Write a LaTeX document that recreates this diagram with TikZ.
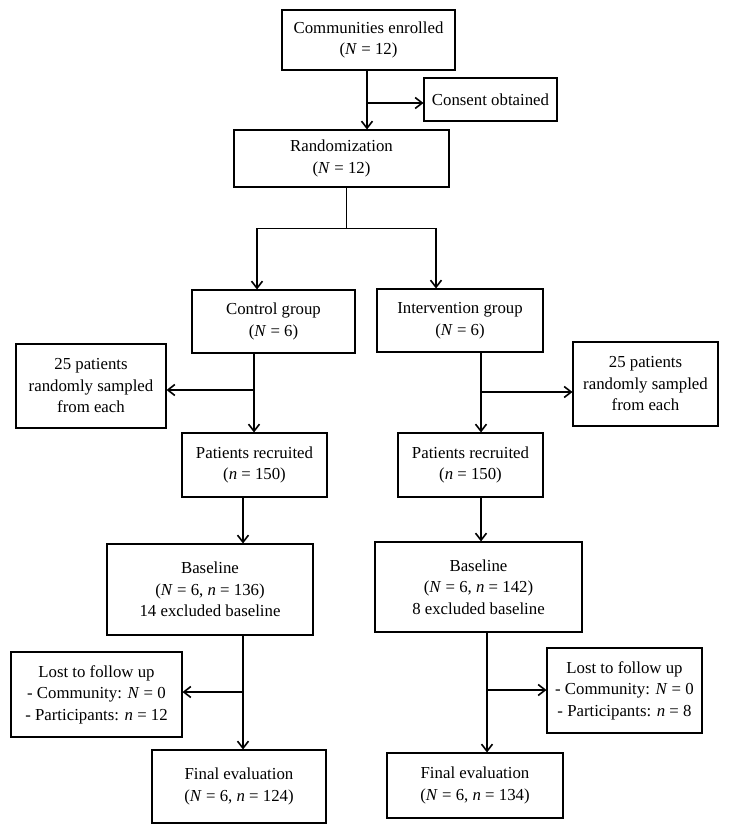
\documentclass[tikz,border=0pt]{standalone}
\usepackage{fontspec}
\setmainfont{Liberation Serif}
\usetikzlibrary{arrows.meta}

\begin{document}
\begin{tikzpicture}[x=1pt, y=-1pt,
                    line width=1.1pt,
                    font=\fontsize{16.8}{21.5}\selectfont]
    \tikzstyle{box}=[draw, align=center, inner sep=0pt]
    \tikzstyle{flow}=[line width=1.6pt, -{Straight Barb[length=7pt,width=11pt]}]
    \tikzstyle{split}=[line width=0.8pt]
    \useasboundingbox (0,0) rectangle (729,834);

    \node[box, minimum width=173pt, minimum height=60pt] (comm) at (368.5,40) {Communities enrolled\\(\textit{N} = 12)};
    \node[box, minimum width=133pt, minimum height=43pt] (consent) at (490.5,99.5) {Consent obtained};
    \node[box, minimum width=215pt, minimum height=57pt] (rand) at (341.5,158.5) {Randomization\\(\textit{N} = 12)};

    \node[box, minimum width=163pt, minimum height=63pt] (ctrl) at (273.5,321.5) {Control group\\(\textit{N} = 6)};
    \node[box, minimum width=166pt, minimum height=63pt] (intv) at (460,320.5) {Intervention group\\(\textit{N} = 6)};
    \node[box, minimum width=150pt, minimum height=84pt] (sampL) at (91,386) {25 patients\\randomly sampled\\from each};
    \node[box, minimum width=145pt, minimum height=84pt] (sampR) at (645.5,384) {25 patients\\randomly sampled\\from each};

    \node[box, minimum width=145pt, minimum height=64pt] (recL) at (254.5,465) {Patients recruited\\(\textit{n} = 150)};
    \node[box, minimum width=145pt, minimum height=64pt] (recR) at (470.5,465) {Patients recruited\\(\textit{n} = 150)};
    \node[box, minimum width=206pt, minimum height=91pt] (baseL) at (210,589.5) {Baseline\\(\textit{N} = 6, \textit{n} = 136)\\14 excluded baseline};
    \node[box, minimum width=207pt, minimum height=90pt] (baseR) at (478.5,587) {Baseline\\(\textit{N} = 6, \textit{n} = 142)\\8 excluded baseline};

    \node[box, minimum width=171pt, minimum height=85pt] (lostL) at (96.5,694.5) {Lost to follow up\\- Community: \textit{N} = 0\\- Participants: \textit{n} = 12};
    \node[box, minimum width=155pt, minimum height=85pt] (lostR) at (624.5,690.5) {Lost to follow up\\- Community: \textit{N} = 0\\- Participants: \textit{n} = 8};
    \node[box, minimum width=174pt, minimum height=73pt] (finL) at (239,786.5) {Final evaluation\\(\textit{N} = 6, \textit{n} = 124)};
    \node[box, minimum width=176pt, minimum height=65pt] (finR) at (475,785.5) {Final evaluation\\(\textit{N} = 6, \textit{n} = 134)};

    \coordinate (sA) at (367,103);
    \coordinate (sB) at (346,228);
    \coordinate (jL) at (257,228);
    \coordinate (jR) at (436,228);
    \coordinate (sC) at (254,390);
    \coordinate (sD) at (481,392);
    \coordinate (sE) at (243,692);
    \coordinate (sF) at (487,690);

    \draw[flow] (comm.south -| sA) -- (rand.north -| sA);
    \draw[flow] (sA) -- (sA -| consent.west);
    \draw[split] (rand.south -| sB) -- (sB);
    \draw[split] (jL) -- (jR);
    \draw[flow] (jL) -- (ctrl.north -| jL);
    \draw[flow] (jR) -- (intv.north -| jR);

    \draw[flow] (ctrl.south -| sC) -- (recL.north -| sC);
    \draw[flow] (sC) -- (sC -| sampL.east);
    \draw[flow] (intv.south -| sD) -- (recR.north -| sD);
    \draw[flow] (sD) -- (sD -| sampR.west);

    \draw[flow] (recL.south -| sE) -- (baseL.north -| sE);
    \draw[flow] (recR.south -| sD) -- (baseR.north -| sD);
    \draw[flow] (baseL.south -| sE) -- (finL.north -| sE);
    \draw[flow] (sE) -- (sE -| lostL.east);
    \draw[flow] (baseR.south -| sF) -- (finR.north -| sF);
    \draw[flow] (sF) -- (sF -| lostR.west);
\end{tikzpicture}
\end{document}
